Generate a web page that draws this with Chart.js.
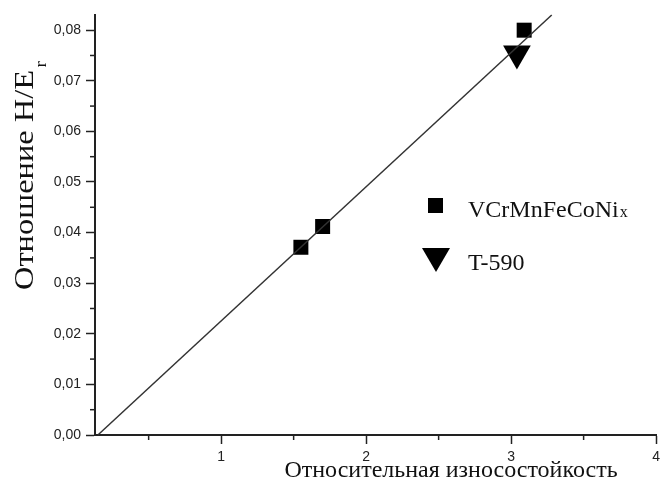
<!DOCTYPE html>
<html>
<head>
<meta charset="utf-8">
<script src="https://cdn.jsdelivr.net/npm/chart.js@4/dist/chart.umd.min.js"></script>
<style>
html,body{margin:0;background:#fff}
#wrap{width:665px;height:483px}
</style>
</head>
<body>
<div id="wrap"><canvas id="c" width="665" height="483"></canvas></div>
<script>
// data
const HEA_X=[1.55,1.70,3.09]
const HEA_Y=[0.0371,0.0412,0.0800]
const T590_X=[3.04]
const T590_Y=[0.0754]
const FIT_X=[0.15,3.28]
const FIT_Y=[0,0.083]
const X_TICKS=[0.5,1,1.5,2,2.5,3,3.5,4]
const Y_TICKS=[0,0.005,0.01,0.015,0.02,0.025,0.03,0.035,0.04,0.045,0.05,0.055,0.06,0.065,0.07,0.075,0.08]
const LEG_HEA='VCrMnFeCoNi',LEG_HEA_SUB='x',LEG_T='T-590'
const X_TITLE='Относительная износостойкость'
const Y_TITLE='Отношение H/E',Y_TITLE_SUB='r'

const pts=(xs,ys)=>xs.map((x,i)=>({x,y:ys[i]}))
const isMajorX=v=>Math.abs(v-Math.round(v))<1e-9
const isMajorY=v=>Math.abs(v*100-Math.round(v*100))<1e-6
const ax='#222'

const decor={
  id:'decor',
  afterDraw(chart){
    const c=chart.ctx,a=chart.chartArea,xs=chart.scales.x,ys=chart.scales.y
    c.save()
    // minor ticks
    c.strokeStyle=ax;c.lineWidth=1.5
    X_TICKS.filter(v=>!isMajorX(v)).forEach(v=>{const p=xs.getPixelForValue(v);c.beginPath();c.moveTo(p,a.bottom);c.lineTo(p,a.bottom+5);c.stroke()})
    Y_TICKS.filter(v=>!isMajorY(v)).forEach(v=>{const p=ys.getPixelForValue(v);c.beginPath();c.moveTo(a.left,p);c.lineTo(a.left-5,p);c.stroke()})
    // x title
    c.fillStyle='#111'
    c.font='24px "Liberation Serif", "Times New Roman", serif'
    c.textAlign='center';c.textBaseline='alphabetic'
    c.fillText(X_TITLE,451,477)
    // y title (stretched along the axis like the original)
    c.save()
    c.translate(33,290);c.rotate(-Math.PI/2)
    c.font='27px "Liberation Serif", "Times New Roman", serif'
    c.textAlign='left'
    const w=c.measureText(Y_TITLE).width,k=220/w
    c.scale(k,1)
    c.fillText(Y_TITLE,0,0)
    c.font='16px "Liberation Serif", "Times New Roman", serif'
    c.fillText(Y_TITLE_SUB,w+2,13)
    c.restore()
    // legend
    c.fillStyle='#000'
    c.fillRect(428,198,15,15)
    c.beginPath();c.moveTo(436-14,248);c.lineTo(436+14,248);c.lineTo(436,272);c.closePath();c.fill()
    c.fillStyle='#111';c.textAlign='left'
    c.font='24px "Liberation Serif", "Times New Roman", serif'
    c.fillText(LEG_HEA,468,217)
    const lw=c.measureText(LEG_HEA).width
    c.font='16px "Liberation Serif", "Times New Roman", serif'
    c.fillText(LEG_HEA_SUB,468+lw+1,217)
    c.font='24px "Liberation Serif", "Times New Roman", serif'
    c.fillText(LEG_T,468,270)
    c.restore()
  }
}

const tickFont={family:'"Liberation Sans", Arial, sans-serif',size:14}

new Chart(document.getElementById('c'),{
  type:'scatter',
  data:{datasets:[
    {data:pts(FIT_X,FIT_Y),showLine:true,borderColor:'#333',borderWidth:1.5,pointRadius:0,clip:false},
    {data:pts(HEA_X,HEA_Y),pointStyle:'rect',pointRadius:10.6,backgroundColor:'#000',borderColor:'#000',borderWidth:0,clip:false},
    {data:pts(T590_X,T590_Y),pointStyle:'triangle',rotation:180,pointRadius:16,backgroundColor:'#000',borderColor:'#000',borderWidth:0,clip:false},
  ]},
  options:{
    responsive:false,animation:false,
    layout:{autoPadding:false,padding:{top:15,right:6,left:0,bottom:0}},
    plugins:{legend:{display:false},tooltip:{enabled:false}},
    scales:{
      x:{type:'linear',min:0.13,max:4,
        afterBuildTicks:s=>{s.ticks=X_TICKS.map(v=>({value:v}))},
        afterFit:s=>{s.height=48},
        ticks:{autoSkip:false,maxRotation:0,padding:5,color:ax,font:tickFont,callback:v=>isMajorX(v)?String(Math.round(v)):''},
        grid:{drawOnChartArea:false,tickLength:9,tickWidth:1.5,tickColor:ctx=>isMajorX(ctx.tick.value)?ax:'rgba(0,0,0,0)'},
        border:{display:true,color:ax,width:2}},
      y:{type:'linear',min:0,max:0.083,
        afterBuildTicks:s=>{s.ticks=Y_TICKS.map(v=>({value:v}))},
        afterFit:s=>{s.width=95},
        ticks:{autoSkip:false,padding:5,color:ax,font:tickFont,callback:v=>isMajorY(v)?v.toFixed(2).replace('.',','):''},
        grid:{drawOnChartArea:false,tickLength:9,tickWidth:1.5,tickColor:ctx=>isMajorY(ctx.tick.value)?ax:'rgba(0,0,0,0)'},
        border:{display:true,color:ax,width:2}}
    }
  },
  plugins:[decor]
})
</script>
</body>
</html>
